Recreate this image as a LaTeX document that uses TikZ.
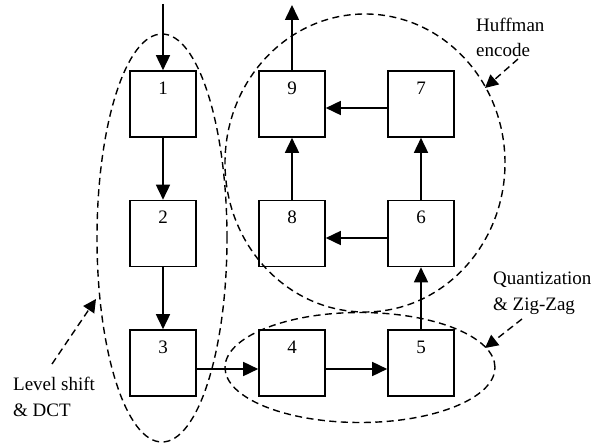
\documentclass[tikz,border=0pt]{standalone}
\usepackage{fontspec}
\setmainfont{Liberation Serif}
\usetikzlibrary{arrows.meta,calc}
\begin{document}
\begin{tikzpicture}[x=1pt,y=-1pt,
  blockbox/.style={draw, line width=1.6pt, minimum width=66pt, minimum height=66pt, inner sep=0pt},
  flow/.style={line width=1.6pt, -{Triangle[length=15pt,width=14pt]}},
  region/.style={line width=1.4pt, dash pattern=on 7pt off 4.5pt},
  pointer/.style={region, -{Triangle[length=13pt,width=13pt]}},
  num/.style={anchor=base, inner sep=0pt, font=\fontsize{19}{23}\selectfont},
  caption/.style={anchor=base west, inner sep=0pt, font=\fontsize{19}{23}\selectfont}]
\useasboundingbox (0,0) rectangle (603,444);

% processing blocks
\node[blockbox] (b1) at (163,104) {};
\node[blockbox] (b2) at (163,233.5) {};
\node[blockbox] (b3) at (163,363) {};
\node[blockbox] (b4) at (292,363) {};
\node[blockbox] (b5) at (421,363) {};
\node[blockbox] (b6) at (421,233.5) {};
\node[blockbox] (b7) at (421,104) {};
\node[blockbox] (b8) at (292,233.5) {};
\node[blockbox] (b9) at (292,104) {};

% block numbers near the top edge
\foreach \k in {1,...,9}{
  \node[num] (n\k) at ($(b\k.north)+(0,24)$) {\k};
}

% data flow
\coordinate (in) at (163,4);
\coordinate (out) at (292,5);
\draw[flow] (in) -- (b1);
\draw[flow] (b1) -- (b2);
\draw[flow] (b2) -- (b3);
\draw[flow] ([yshift=-6pt]b3.east) -- ([yshift=-6pt]b4.west);
\draw[flow] ([yshift=-6pt]b4.east) -- ([yshift=-6pt]b5.west);
\draw[flow] (b5) -- (b6);
\draw[flow] ([yshift=-4.5pt]b6.west) -- ([yshift=-4.5pt]b8.east);
\draw[flow] (b8) -- (b9);
\draw[flow] (b6) -- (b7);
\draw[flow] ([yshift=-4pt]b7.west) -- ([yshift=-4pt]b9.east);
\draw[flow] (b9) -- (out);

% stage groupings
\coordinate (dctc) at (162,238);
\coordinate (huffc) at (365,163);
\coordinate (quantc) at (360,367.5);
\draw[region] (dctc) ellipse [x radius=65pt, y radius=204pt];
\draw[region] (huffc) ellipse [x radius=140pt, y radius=149pt];
\draw[region] (quantc) ellipse [x radius=135pt, y radius=55pt];

% stage captions
\node[caption] (huff1) at (476,32) {Huffman};
\node[caption] (huff2) at (476,57) {encode};
\node[caption] (q1) at (493,284) {Quantization};
\node[caption] (q2) at (493,310) {\& Zig-Zag};
\node[caption] (lv1) at (13,390) {Level shift};
\node[caption] (lv2) at (13,416) {\& DCT};

% caption pointers
\coordinate (hs) at (518,59);
\coordinate (ht) at (485,88);
\coordinate (qs) at (522,319);
\coordinate (qt) at (485,348);
\coordinate (ls) at (52,364);
\coordinate (lt) at (96,299);
\draw[pointer] (hs) -- (ht);
\draw[pointer] (qs) -- (qt);
\draw[pointer] (ls) -- (lt);
\end{tikzpicture}
\end{document}
